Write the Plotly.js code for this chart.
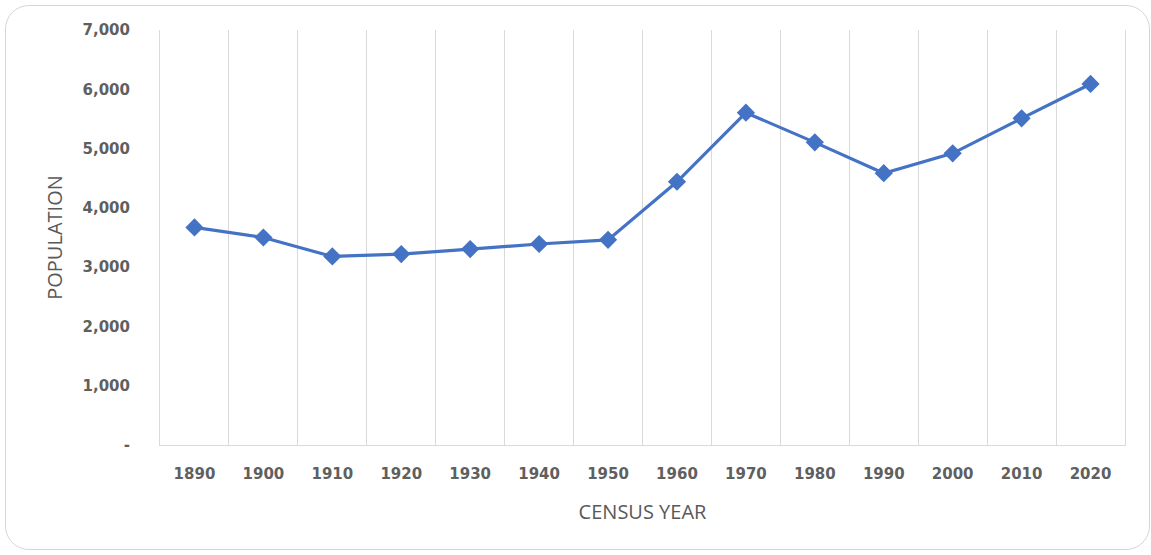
<!DOCTYPE html>
<html>
<head>
<meta charset="utf-8">
<script src="https://cdn.plot.ly/plotly-3.0.1.min.js"></script>
<style>
  html, body { margin: 0; padding: 0; background: #ffffff; }
  #wrap { position: relative; width: 1151px; height: 555px; }
  #chart { position: absolute; left: 0; top: 0; width: 1151px; height: 555px; }
  #frame { position: absolute; left: 5px; top: 5px; width: 1143px; height: 543px;
           border: 1.5px solid #d6d6d6; border-radius: 24px; pointer-events: none; }
</style>
</head>
<body>
<div id="wrap">
  <div id="chart"></div>
  <div id="frame"></div>
</div>
<script>
const years = ["1890","1900","1910","1920","1930","1940","1950","1960","1970","1980","1990","2000","2010","2020"];
const population = [3670, 3500, 3180, 3220, 3305, 3390, 3460, 4440, 5605, 5105, 4585, 4920, 5510, 6090];
const yTickValues = [0, 1000, 2000, 3000, 4000, 5000, 6000, 7000];
const yTickLabels = ["-", "1,000", "2,000", "3,000", "4,000", "5,000", "6,000", "7,000"];

const trace = {
  x: years,
  y: population,
  type: 'scatter',
  mode: 'lines+markers',
  line: { color: '#4472C4', width: 3.2 },
  marker: { symbol: 'diamond', size: 14, color: '#4472C4' },
  hoverinfo: 'x+y'
};

const layout = {
  width: 1151,
  height: 555,
  margin: { l: 160, r: 26, t: 30, b: 110 },
  paper_bgcolor: 'rgba(0,0,0,0)',
  plot_bgcolor: '#ffffff',
  showlegend: false,
  font: { family: 'DejaVu Sans, sans-serif', color: '#595959' },
  xaxis: {
    type: 'category',
    categoryorder: 'array',
    categoryarray: years,
    range: [-0.5, 13.5],
    tickson: 'boundaries',
    showgrid: true,
    gridcolor: '#d9d9d9',
    gridwidth: 1,
    showline: true,
    linecolor: '#d9d9d9',
    linewidth: 1,
    ticks: '',
    zeroline: false,
    ticklabelstandoff: 15,
    tickfont: { family: 'DejaVu Sans, sans-serif', size: 15, color: '#5f5f5f', weight: 'bold' },
    title: { text: 'CENSUS YEAR', standoff: 22,
             font: { family: 'Open Sans, sans-serif', size: 20, color: '#595959' } }
  },
  yaxis: {
    range: [0, 7000],
    tickvals: yTickValues,
    ticktext: yTickLabels,
    showgrid: false,
    zeroline: false,
    showline: true,
    mirror: true,
    linecolor: '#d9d9d9',
    linewidth: 1,
    ticks: '',
    ticklabelstandoff: 26,
    tickfont: { family: 'DejaVu Sans, sans-serif', size: 15, color: '#5f5f5f', weight: 'bold' },
    title: { text: 'POPULATION', standoff: 14,
             font: { family: 'Open Sans, sans-serif', size: 20, color: '#595959' } }
  }
};

Plotly.newPlot('chart', [trace], layout, { displayModeBar: false, staticPlot: true });
</script>
</body>
</html>
